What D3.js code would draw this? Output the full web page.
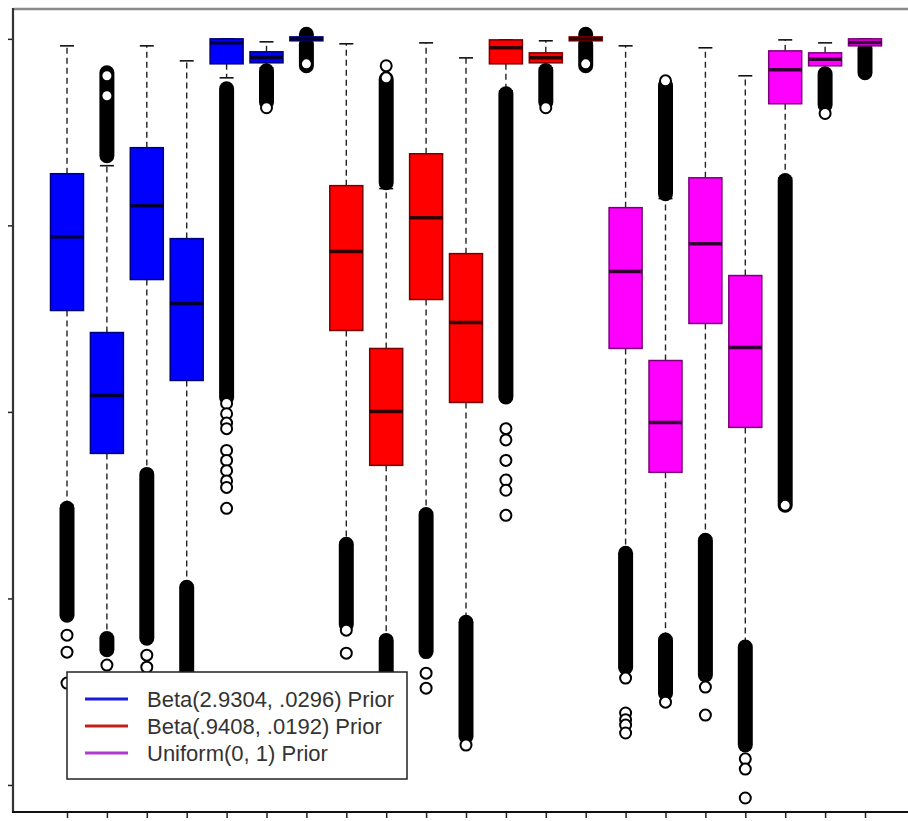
<!DOCTYPE html>
<html>
<head>
<meta charset="utf-8">
<script src="https://cdn.jsdelivr.net/npm/d3@7"></script>
<style>
  html, body { margin: 0; padding: 0; background: #fff; }
  svg { display: block; }
</style>
</head>
<body>
<svg id="chart" width="908" height="821"></svg>
<script>
// Posterior samples summarised per parameter (7 parameters) under three priors.
const priors = ["Beta(2.9304, .0296) Prior", "Beta(.9408, .0192) Prior", "Uniform(0, 1) Prior"];
const params = ["1", "2", "3", "4", "5", "6", "7"];
const categories = priors.flatMap((p, gi) => params.map(k => `${gi}-${k}`));

const whiskerHigh = [0.9925, 0.864, 0.9925, 0.9764, 1.0, 0.9968, 1.0021,
                     0.9947, 0.8394, 0.9957, 0.9796, 0.9989, 0.9979, 1.0021,
                     0.9925, 0.8287, 0.9904, 0.9604, 0.9989, 0.9957, 1.0];
const upperQuartile = [0.8554, 0.6851, 0.8833, 0.7858, 1.0, 0.9861, 1.0021,
                       0.8426, 0.668, 0.8768, 0.7697, 0.9989, 0.985, 1.0021,
                       0.819, 0.6551, 0.851, 0.7462, 0.9871, 0.985, 1.0];
const medians = [0.7879, 0.6177, 0.8211, 0.7162, 0.9957, 0.980, 1.0,
                 0.7719, 0.6005, 0.8083, 0.6958, 0.9904, 0.9797, 1.0,
                 0.7505, 0.5887, 0.7804, 0.6691, 0.9668, 0.978, 0.996];
const lowerQuartile = [0.7087, 0.5555, 0.7419, 0.6337, 0.9732, 0.9743, 0.9979,
                       0.6873, 0.5427, 0.7205, 0.6101, 0.9732, 0.9743, 0.9979,
                       0.668, 0.5352, 0.6948, 0.5834, 0.9304, 0.9711, 0.9925];
const whiskerLow = [0.4998, 0.3585, 0.5352, 0.4142, 0.9582, 0.969, 0.9957,
                    0.4602, 0.3574, 0.4923, 0.3767, 0.9443, 0.969, 0.9957,
                    0.4484, 0.3574, 0.4645, 0.3499, 0.8511, 0.9647, 0.9925];

// Runs of overlapping outliers, each as [lowest, highest]
const outlierRuns = [
  [[0.382, 0.4966]], [[0.8747, 0.9636], [0.345, 0.357]], [[0.3574, 0.533]], [[0.29, 0.412]],
  [[0.6155, 0.9464]], [[0.932, 0.9657]], [[0.9711, 0.994], [1.004, 1.005]],
  [[0.372, 0.458]], [[0.8458, 0.957], [0.315, 0.355]], [[0.343, 0.49]], [[0.252, 0.3745]],
  [[0.616, 0.9411]], [[0.932, 0.966]], [[0.9711, 0.994], [1.004, 1.005]],
  [[0.326, 0.4484]], [[0.834, 0.95], [0.298, 0.3553]], [[0.318, 0.4624]], [[0.243, 0.3478]],
  [[0.5, 0.848]], [[0.929, 0.9625]], [[0.9636, 0.99]]
];
// Isolated outliers
const outlierPoints = [
  [0.3606, 0.3424, 0.3092], [0.9604, 0.939, 0.3285], [0.3392, 0.3263], [],
  [0.609, 0.598, 0.588, 0.582, 0.5587, 0.548, 0.537, 0.526, 0.519, 0.4966], [0.9261], [0.9732],
  [0.366, 0.3413], [0.9711, 0.9582], [0.3199, 0.3038], [0.2428],
  [0.582, 0.57, 0.548, 0.527, 0.516, 0.4891], [0.9261], [0.9732],
  [0.3146, 0.2771, 0.27, 0.2642, 0.2557], [0.955, 0.2888], [0.3049, 0.2749], [0.228, 0.217, 0.186],
  [0.4998], [0.92], []
];
const yTicks = [0.2, 0.4, 0.6, 0.8, 1.0];

const fills = ["#0000ff", "#ff0000", "#ff00ff"];
const edges = ["#00007a", "#7a0000", "#7a007a"];
const medianColors = ["#000033", "#330000", "#330033"];
const legendColors = ["#1a1ae0", "#c0201a", "#b03ad0"];

const svg = d3.select("#chart");
const plotLeft = 13, plotRight = 908, plotTop = 9, plotBottom = 812;

const x = d3.scalePoint().domain(categories).range([67, 865]);
const y = d3.scaleLinear().domain([0.171, 1.032]).range([plotBottom, plotTop]);

const boxW = 33, capW = 14;

const data = categories.map((c, i) => ({
  key: c, group: Math.floor(i / 7),
  hi: whiskerHigh[i], q3: upperQuartile[i], med: medians[i],
  q1: lowerQuartile[i], lo: whiskerLow[i],
  runs: outlierRuns[i], pts: outlierPoints[i]
}));

const g = svg.append("g");
const box = g.selectAll("g.box").data(data).join("g").attr("class", "box")
  .attr("transform", d => `translate(${x(d.key)},0)`);

// whiskers
box.append("line").attr("x1", 0).attr("x2", 0)
  .attr("y1", d => y(d.q3)).attr("y2", d => y(d.hi))
  .attr("stroke", "#222").attr("stroke-width", 1.4).attr("stroke-dasharray", "6,4");
box.append("line").attr("x1", 0).attr("x2", 0)
  .attr("y1", d => y(d.q1)).attr("y2", d => y(d.lo))
  .attr("stroke", "#222").attr("stroke-width", 1.4).attr("stroke-dasharray", "6,4");
// caps
box.selectAll("line.cap").data(d => [d.hi, d.lo]).join("line").attr("class", "cap")
  .attr("x1", -capW / 2).attr("x2", capW / 2)
  .attr("y1", v => y(v)).attr("y2", v => y(v))
  .attr("stroke", "#111").attr("stroke-width", 1.6);

// dense outlier runs
box.selectAll("line.run").data(d => d.runs).join("line").attr("class", "run")
  .attr("x1", 0).attr("x2", 0)
  .attr("y1", r => y(r[1])).attr("y2", r => y(r[0]))
  .attr("stroke", "#000").attr("stroke-width", 15).attr("stroke-linecap", "round");
// isolated outliers
box.selectAll("circle.pt").data(d => d.pts).join("circle").attr("class", "pt")
  .attr("cx", 0).attr("cy", v => y(v)).attr("r", 5.5)
  .attr("fill", "#fff").attr("stroke", "#000").attr("stroke-width", 2);

// boxes
box.append("rect")
  .attr("x", -boxW / 2).attr("width", boxW)
  .attr("y", d => y(d.q3)).attr("height", d => Math.max(2, y(d.q1) - y(d.q3)))
  .attr("fill", d => fills[d.group]).attr("stroke", d => edges[d.group]).attr("stroke-width", 1.5);
box.append("line")
  .attr("x1", -boxW / 2).attr("x2", boxW / 2)
  .attr("y1", d => y(d.med)).attr("y2", d => y(d.med))
  .attr("stroke", d => medianColors[d.group]).attr("stroke-width", 3.5);

// axes
const yAxis = d3.axisLeft(y).tickValues(yTicks).tickFormat("").tickSize(5).tickSizeOuter(0);
const xAxis = d3.axisBottom(x).tickFormat("").tickSize(6).tickSizeOuter(0);
svg.append("g").attr("transform", `translate(${plotLeft},0)`).call(yAxis)
  .call(a => a.select(".domain").remove())
  .selectAll("line").attr("stroke", "#222").attr("stroke-width", 1.5);
svg.append("g").attr("transform", `translate(0,${plotBottom})`).call(xAxis)
  .call(a => a.select(".domain").remove())
  .selectAll("line").attr("stroke", "#222").attr("stroke-width", 1.5);

svg.append("line").attr("x1", plotLeft).attr("x2", plotRight).attr("y1", plotTop).attr("y2", plotTop)
  .attr("stroke", "#8a8a8a").attr("stroke-width", 2.5);
svg.append("line").attr("x1", plotLeft).attr("x2", plotLeft).attr("y1", plotTop - 1).attr("y2", plotBottom + 1)
  .attr("stroke", "#333").attr("stroke-width", 2.2);
svg.append("line").attr("x1", plotLeft - 1).attr("x2", plotRight).attr("y1", plotBottom).attr("y2", plotBottom)
  .attr("stroke", "#111").attr("stroke-width", 2.2);

// legend
const legend = svg.append("g").attr("transform", "translate(67,672)");
legend.append("rect").attr("width", 340).attr("height", 107)
  .attr("fill", "#fff").attr("stroke", "#222").attr("stroke-width", 1.5);
const item = legend.selectAll("g.item").data(priors).join("g").attr("class", "item")
  .attr("transform", (d, i) => `translate(0,${27 + i * 27})`);
item.append("line").attr("x1", 18).attr("x2", 61).attr("y1", 0).attr("y2", 0)
  .attr("stroke", (d, i) => legendColors[i]).attr("stroke-width", 3);
item.append("text").attr("x", 80).attr("dy", "0.36em")
  .attr("font-family", "'Liberation Sans', Arial, sans-serif").attr("font-size", 22)
  .attr("fill", "#333").text(d => d);
</script>
</body>
</html>
